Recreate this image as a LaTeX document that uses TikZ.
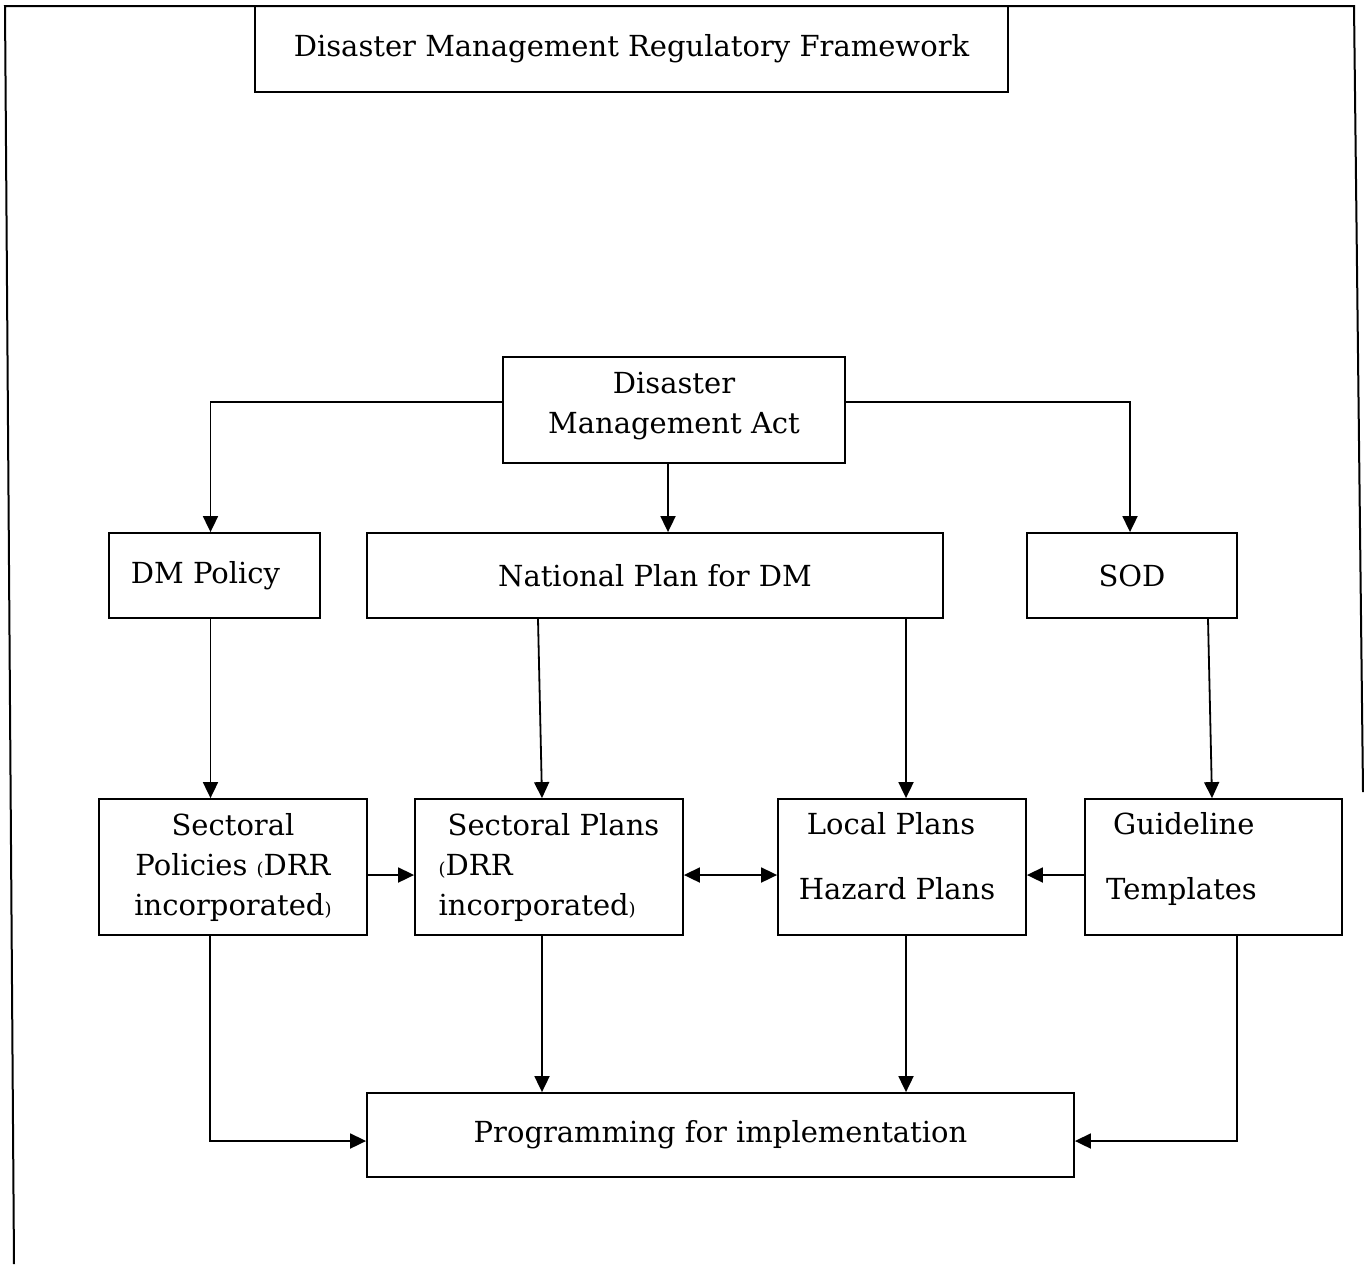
\documentclass[tikz,border=0pt]{standalone}
\usepackage{fontspec}
\setmainfont{DejaVu Serif}
\usepackage{tikz}
\usetikzlibrary{positioning}
\usetikzlibrary{arrows.meta}

\newcommand{\lp}{{\small(}}
\newcommand{\rp}{{\small)}}

\begin{document}
\begin{tikzpicture}[x=0.5pt,y=-0.5pt,
        tip/.tip={Triangle[length=8pt,width=7.5pt]},
        arr/.style={-tip,line width=0.9pt}]
        \useasboundingbox (0,0) rectangle (1364,1264);
        % outer frame (open at the bottom)
        \draw[line width=1pt] (14,1264) -- (5,6) -- (1354,6) -- (1363,792);

        \begin{scope}[every node/.style={draw,line width=0.9pt,inner sep=0pt,
            font=\fontsize{14.5}{20}\selectfont}]
            \node[minimum width=376.5pt,minimum height=43pt] (title) at (631.5,49) {Disaster Management Regulatory Framework};
            \node[minimum width=171pt,minimum height=53pt,align=center] (act) at (674,410) {Disaster\\Management Act\\[-13pt]\mbox{}};
            \node[minimum width=105.5pt,minimum height=42.5pt] (dmpol) at (214.5,575.5) {\hspace*{-9pt}DM Policy};
            \node[minimum width=288pt,minimum height=42.5pt] (natplan) at (655,575.5) {National Plan for DM};
            \node[minimum width=105pt,minimum height=42.5pt] (sod) at (1132,575.5) {SOD};
            \node[minimum width=134pt,minimum height=68pt,align=center] (secpol) at (233,867) {Sectoral\\Policies \lp DRR\\incorporated\rp};
            \node[minimum width=134pt,minimum height=68pt,align=left] (secplan) at (549,867) {\hspace*{4.5pt}Sectoral Plans\\\lp DRR\\incorporated\rp};
            \node[minimum width=124pt,minimum height=68pt,align=left] (local) at (902,867) {\hspace*{4pt}Local Plans\\[12.5pt]Hazard Plans\hspace*{5pt}\mbox{}\\[-9pt]\mbox{}};
            \node[minimum width=128.5pt,minimum height=68pt,align=left] (guide) at (1213.5,867) {\hspace*{3.5pt}Guideline\\[12.5pt]Templates\hspace*{32pt}\mbox{}\\[-9pt]\mbox{}};
            \node[minimum width=353.5pt,minimum height=42pt] (prog) at (720.5,1135) {Programming for implementation};
        \end{scope}

        % from the act
        \draw[arr] ([yshift=4pt]act.west) -| ([xshift=-2pt]dmpol.north);
        \draw[arr] ([xshift=-3pt]act.south) -- ([xshift=-3pt]act.south |- natplan.north);
        \draw[arr] ([yshift=4pt]act.east) -| ([xshift=-1pt]sod.north);
        % second row to third row
        \draw[arr] ([xshift=-2pt]dmpol.south) -- ([xshift=-2pt]dmpol.south |- secpol.north);
        \draw[arr] ([xshift=-58.5pt]natplan.south) -- ([xshift=-3.5pt]secplan.north);
        \draw[arr] ([xshift=125.5pt]natplan.south) -- ([xshift=2pt]local.north);
        \draw[arr] ([xshift=38pt]sod.south) -- ([xshift=-0.75pt]guide.north);
        % across the third row
        \draw[arr] ([yshift=-4pt]secpol.east) -- ([yshift=-4pt]secplan.west);
        \draw[arr,tip-tip] ([yshift=-4pt]secplan.east) -- ([yshift=-4pt]local.west);
        \draw[arr] ([yshift=-4pt]guide.west) -- ([yshift=-4pt]local.east);
        % down to programming
        \draw[arr] ([xshift=-11.5pt]secpol.south) |- ([yshift=-3pt]prog.west);
        \draw[arr] ([xshift=-3.5pt]secplan.south) -- ([xshift=-3.5pt]secplan.south |- prog.north);
        \draw[arr] ([xshift=2pt]local.south) -- ([xshift=2pt]local.south |- prog.north);
        \draw[arr] ([xshift=11.75pt]guide.south) |- ([yshift=-3pt]prog.east);
    \end{tikzpicture}
\end{document}
